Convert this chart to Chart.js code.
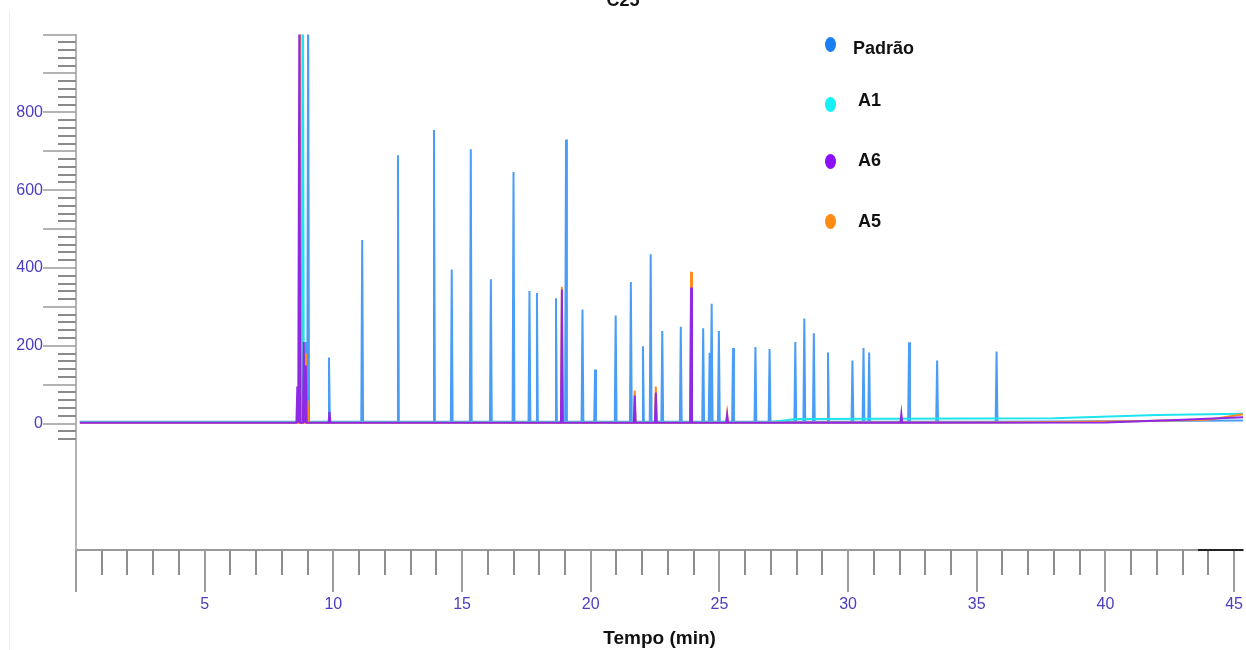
<!DOCTYPE html>
<html lang="pt">
<head>
<meta charset="utf-8">
<title>C25</title>
<script src="https://cdn.jsdelivr.net/npm/chart.js@4.4.1/dist/chart.umd.min.js"></script>
<style>
  html, body { margin: 0; padding: 0; background: #fff; overflow: hidden; }
  #palco { position: relative; width: 1246px; height: 650px; overflow: hidden; }
  #grafico { position: absolute; left: 0; top: -14px; }
  #borda { position: absolute; left: 9px; top: 12px; width: 0; height: 638px; border-left: 1px solid #ececec; }
  .ponto { position: absolute; width: 11px; height: 15px; border-radius: 50%; }
  .rotulo { position: absolute; font: bold 18px "Liberation Sans", Arial, sans-serif; color: #111; line-height: 20px; }
</style>
</head>
<body>
<div id="palco">
  <div id="borda"></div>
  <canvas id="grafico" width="1246" height="664"></canvas>
  <div id="legenda"></div>
</div>
<script>
// Rótulos dos eixos
const rotulosX = [5, 10, 15, 20, 25, 30, 35, 40, 45];
const rotulosY = [0, 200, 400, 600, 800];

// Padrão (azul): picos - tempo (min) e altura
const padraoTempo = [8.93, 9.02, 9.83, 11.12, 12.51, 13.91, 14.6, 15.34, 16.12, 17.0, 17.62, 17.91, 18.65, 19.04, 19.68, 20.17, 20.97, 21.56, 22.03, 22.33, 22.78, 23.5, 23.9, 24.37, 24.62, 24.7, 24.98, 25.53, 26.4, 26.95, 27.95, 28.3, 28.67, 29.22, 30.17, 30.6, 30.82, 32.37, 33.46, 35.77];
const padraoAltura = [210, 1100, 170, 472, 690, 755, 396, 705, 371, 647, 341, 336, 322, 730, 293, 139, 278, 364, 199, 435, 238, 249, 60, 245, 182, 308, 238, 194, 197, 192, 210, 270, 232, 183, 162, 194, 183, 209, 162, 185];
const padraoBaseTempo = [0.15, 45.35];
const padraoBase = [5, 8];

// A1 (ciano)
const a1Tempo = [8.62, 8.82, 18.88, 23.9];
const a1Altura = [55, 1100, 150, 125];
const a1BaseTempo = [0.15, 27, 28, 38, 42, 45.35];
const a1Base = [4, 4, 12, 14, 22, 25];

// A6 (roxo)
const a6Tempo = [8.6, 8.68, 8.85, 8.93, 9.85, 18.88, 21.71, 22.53, 23.9, 25.3, 32.07];
const a6Altura = [95, 1100, 210, 150, 30, 345, 72, 80, 350, 22, 25];
const a6BaseTempo = [0.15, 40, 43, 45.35];
const a6Base = [2, 3, 10, 16];

// A5 (laranja)
const a5Tempo = [8.72, 8.9, 9.0, 18.88, 21.71, 22.53, 23.9, 25.3];
const a5Altura = [1100, 180, 60, 352, 85, 95, 390, 25];
const a5BaseTempo = [0.15, 36, 41, 44, 45.35];
const a5Base = [2, 3, 6, 10, 24];

const MEIA_LARGURA = 0.035; // meia largura dos picos (min)

// Monta a série: linha de base + picos estreitos
function montarSerie(baseTempo, base, tempos, alturas) {
  const pts = baseTempo.map((t, i) => ({ x: t, y: base[i] }));
  tempos.forEach((t, i) => {
    let nivel = base[0];
    baseTempo.forEach((bt, j) => { if (bt <= t) nivel = base[j]; });
    pts.push({ x: t - MEIA_LARGURA, y: nivel });
    pts.push({ x: t, y: alturas[i] });
    pts.push({ x: t + MEIA_LARGURA, y: nivel });
  });
  return pts.sort((a, b) => a.x - b.x);
}

// Marcas de 1 em 1 (x) e de 20 em 20 (y)
function marcasDe(inicio, fim, passo) {
  const lista = [];
  for (let v = inicio; v <= fim; v += passo) lista.push({ value: v });
  return lista;
}

const corTexto = "#4a3dc2";
const fonte = "'Liberation Sans', Arial, sans-serif";

// Marcas dos eixos (curtas e longas)
const marcas = {
  id: "marcas",
  afterDraw(chart) {
    const { ctx, chartArea, scales: { x, y } } = chart;
    ctx.save();
    ctx.lineWidth = 2;
    x.ticks.forEach(t => {
      const px = Math.round(x.getPixelForValue(t.value));
      const longa = t.value === 0 || rotulosX.includes(t.value);
      ctx.strokeStyle = longa ? "#9c9c9c" : "#8e8e8e";
      ctx.beginPath();
      ctx.moveTo(px, chartArea.bottom);
      ctx.lineTo(px, chartArea.bottom + (longa ? 42 : 25));
      ctx.stroke();
    });
    y.ticks.forEach(t => {
      const py = Math.round(y.getPixelForValue(t.value));
      const longa = t.value % 100 === 0;
      ctx.strokeStyle = longa ? "#9a9a9a" : "#8a8a8a";
      ctx.lineWidth = longa ? 1.5 : 2;
      ctx.beginPath();
      ctx.moveTo(chartArea.left, py);
      ctx.lineTo(chartArea.left - (longa ? 33 : 18), py);
      ctx.stroke();
    });
    // trecho escuro no fim do eixo x
    ctx.strokeStyle = "#222";
    ctx.lineWidth = 2;
    ctx.beginPath();
    ctx.moveTo(x.getPixelForValue(43.6), chartArea.bottom);
    ctx.lineTo(chartArea.right, chartArea.bottom);
    ctx.stroke();
    ctx.restore();
  }
};

const datasets = [
  { label: "Padrão", data: montarSerie(padraoBaseTempo, padraoBase, padraoTempo, padraoAltura), borderColor: "#4a9df5", legenda: "#1a7ff0", order: 3 },
  { label: "A1", data: montarSerie(a1BaseTempo, a1Base, a1Tempo, a1Altura), borderColor: "#1de4ee", legenda: "#14f0f5", order: 2 },
  { label: "A6", data: montarSerie(a6BaseTempo, a6Base, a6Tempo, a6Altura), borderColor: "#8e2ae6", legenda: "#8c10f5", order: 0 },
  { label: "A5", data: montarSerie(a5BaseTempo, a5Base, a5Tempo, a5Altura), borderColor: "#ff8c1a", legenda: "#ff8a14", order: 1 }
].map(d => ({ ...d, borderWidth: 2, pointRadius: 0, tension: 0, fill: false }));

new Chart(document.getElementById("grafico").getContext("2d"), {
  type: "line",
  data: { datasets },
  options: {
    responsive: false,
    animation: false,
    events: [],
    layout: { padding: 0 },
    plugins: {
      legend: { display: false },
      tooltip: { enabled: false },
      title: {
        display: true,
        text: "C25",
        color: "#111",
        font: { family: fonte, size: 18, weight: "bold" },
        padding: { top: 4, bottom: 23 }
      }
    },
    scales: {
      x: {
        type: "linear",
        min: 0,
        max: 45.35,
        afterBuildTicks: s => { s.ticks = marcasDe(0, 45, 1); },
        afterFit: s => { s.height = 100; },
        ticks: {
          autoSkip: false,
          maxRotation: 0,
          padding: 3,
          color: corTexto,
          font: { family: fonte, size: 16 },
          callback: v => (rotulosX.includes(v) ? String(v) : "")
        },
        grid: { drawOnChartArea: false, tickLength: 42, color: "transparent" },
        border: { color: "#9a9a9a", width: 2 },
        title: {
          display: true,
          text: "Tempo (min)",
          color: "#111",
          font: { family: fonte, size: 19, weight: "bold" },
          padding: { top: 0, bottom: 0 }
        }
      },
      y: {
        min: -325,
        max: 1000,
        afterBuildTicks: s => { s.ticks = marcasDe(-40, 1000, 20); },
        afterFit: s => { s.width = 76; },
        ticks: {
          autoSkip: false,
          padding: 2,
          color: corTexto,
          font: { family: fonte, size: 16 },
          callback: v => (rotulosY.includes(v) ? String(v) : "")
        },
        grid: { drawOnChartArea: false, tickLength: 31, color: "transparent" },
        border: { color: "#b4b4b4", width: 2 }
      }
    }
  },
  plugins: [marcas]
});

// Legenda dentro da área do gráfico
const legendaPonto = [44, 104, 161, 221];
const legendaTexto = [48, 100, 160, 221];
const legendaEsq = [853, 858, 858, 858];
const caixa = document.getElementById("legenda");
datasets.forEach((d, i) => {
  const p = document.createElement("div");
  p.className = "ponto";
  p.style.background = d.legenda;
  p.style.left = "825px";
  p.style.top = (legendaPonto[i] - 7) + "px";
  caixa.appendChild(p);
  const r = document.createElement("div");
  r.className = "rotulo";
  r.textContent = d.label;
  r.style.left = legendaEsq[i] + "px";
  r.style.top = (legendaTexto[i] - 10) + "px";
  caixa.appendChild(r);
});
</script>
</body>
</html>
